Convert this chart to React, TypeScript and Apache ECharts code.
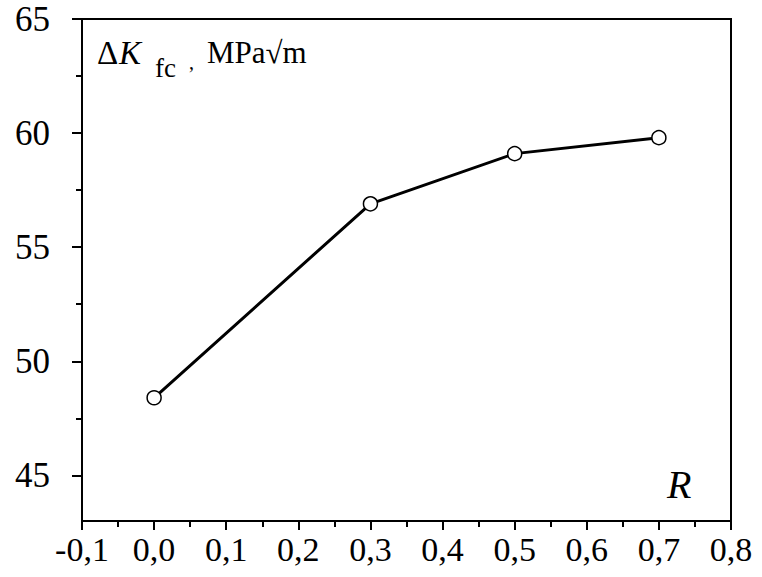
import React, { useEffect, useRef } from "react";
import * as echarts from "echarts";

const rValues = [0.0, 0.3, 0.5, 0.7];
const dkValues = [48.4, 56.9, 59.1, 59.8];
const yMajorTicks = [45, 50, 55, 60, 65];
const yMinorTicks = [47.5, 52.5, 57.5, 62.5];

const FONT = "'Liberation Serif', 'Times New Roman', serif";

export default function App() {
  const ref = useRef<HTMLDivElement>(null);
  useEffect(() => {
    if (!ref.current) return;
    const chart = echarts.init(ref.current, undefined, { renderer: "svg" });
    const data = rValues.map((r, i) => [r, dkValues[i]]);
    chart.setOption({
      animation: false,
      backgroundColor: "#ffffff",
      grid: {
        left: 82,
        right: 31,
        top: 19,
        bottom: 56,
        show: true,
        borderColor: "#000",
        borderWidth: 2,
        backgroundColor: "transparent",
      },
      xAxis: {
        type: "value",
        min: -0.1,
        max: 0.8,
        interval: 0.1,
        axisLine: { show: true, onZero: false, lineStyle: { color: "#000", width: 2 } },
        axisTick: { show: true, length: 9, lineStyle: { color: "#000", width: 2 } },
        minorTick: { show: true, splitNumber: 2, length: 6, lineStyle: { color: "#000", width: 2 } },
        splitLine: { show: false },
        axisLabel: {
          color: "#000",
          fontFamily: FONT,
          fontSize: 34,
          margin: 11,
          formatter: (v: number) => v.toFixed(1).replace(".", ","),
        },
      },
      yAxis: [
        {
          type: "value",
          min: 43,
          max: 65,
          axisLine: { show: true, onZero: false, lineStyle: { color: "#000", width: 2 } },
          axisTick: {
            show: true,
            length: 10,
            customValues: yMajorTicks,
            lineStyle: { color: "#000", width: 2 },
          },
          splitLine: { show: false },
          axisLabel: {
            color: "#000",
            fontFamily: FONT,
            fontSize: 35,
            margin: 32,
            customValues: yMajorTicks,
          },
        },
        {
          type: "value",
          min: 43,
          max: 65,
          position: "left",
          axisLine: { show: false, onZero: false },
          axisTick: {
            show: true,
            length: 6,
            customValues: yMinorTicks,
            lineStyle: { color: "#000", width: 2 },
          },
          splitLine: { show: false },
          axisLabel: { show: false },
        },
      ],
      series: [
        {
          type: "line",
          data,
          symbol: "circle",
          symbolSize: 14,
          lineStyle: { color: "#000", width: 3 },
          itemStyle: { color: "#fff", borderColor: "#000", borderWidth: 1.5 },
          z: 3,
        },
      ],
      graphic: [
        { type: "text", left: 97, top: 36, style: { text: "Δ", font: `33px ${FONT}`, fill: "#000" } },
        { type: "text", left: 119, top: 36, style: { text: "K", font: `italic 33px ${FONT}`, fill: "#000" } },
        { type: "text", left: 155, top: 54, style: { text: "fc", font: `27px ${FONT}`, fill: "#000" } },
        { type: "text", left: 189, top: 52, style: { text: ",", font: `20px ${FONT}`, fill: "#000" } },
        { type: "text", left: 207, top: 37, style: { text: "MPa√m", font: `31px ${FONT}`, fill: "#000" } },
        { type: "text", left: 667, top: 464, style: { text: "R", font: `italic 40px ${FONT}`, fill: "#000" } },
      ],
    });
    return () => chart.dispose();
  }, []);
  return <div ref={ref} style={{ position: "fixed", left: 0, top: 0, width: 762, height: 577 }} />;
}
